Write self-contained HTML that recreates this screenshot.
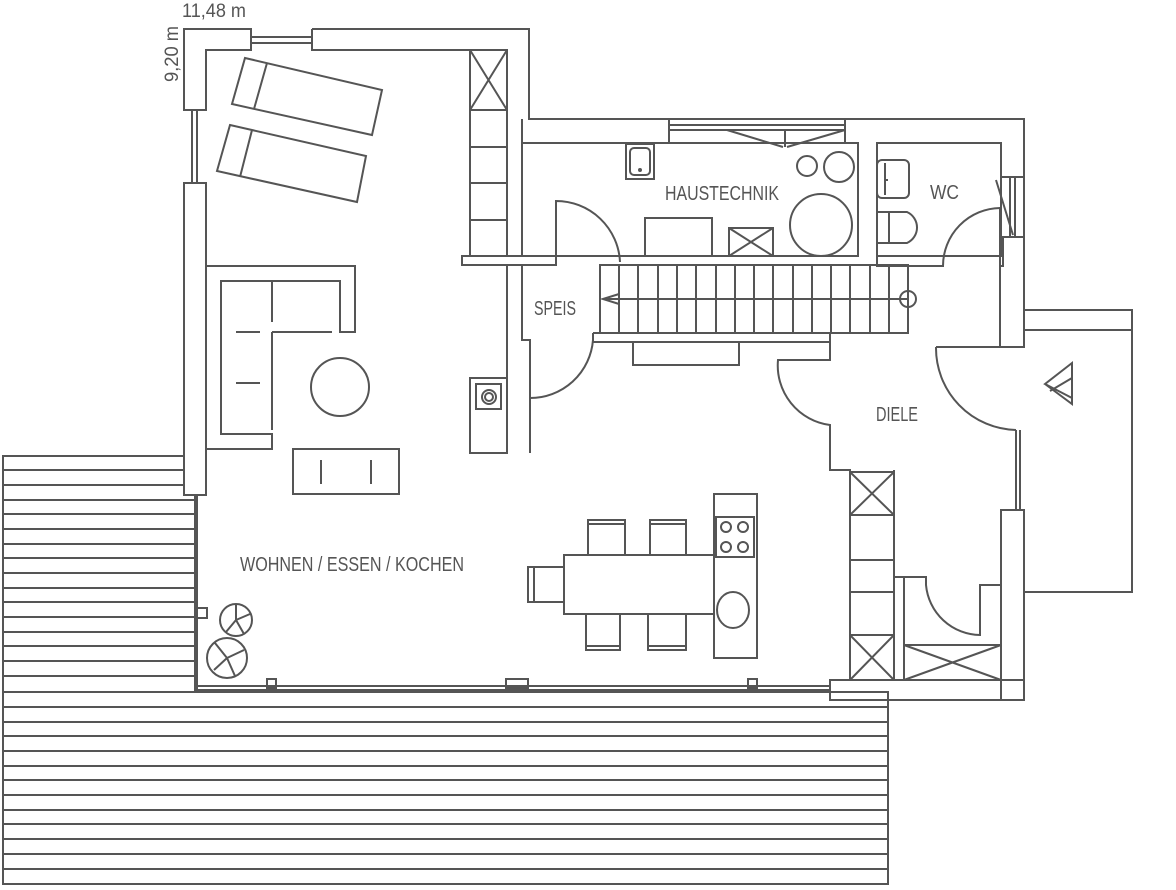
<!DOCTYPE html>
<html><head><meta charset="utf-8"><style>
html,body{margin:0;padding:0;background:#fff;}
svg{display:block;}
text{font-family:"Liberation Sans Narrow","Liberation Sans",sans-serif;fill:#555;}
</style></head><body>
<svg width="1176" height="890" viewBox="0 0 1176 890" xmlns="http://www.w3.org/2000/svg">
<g fill="none" stroke="#555" stroke-width="2">
<g stroke-width="2">
<rect x="3" y="456" width="192" height="236"/>
<path d="M3 470H195M3 485H195M3 500H195M3 514H195M3 529H195M3 544H195M3 558H195M3 573H195M3 588H195M3 602H195M3 617H195M3 632H195M3 646H195M3 661H195M3 676H195"/>
<rect x="3" y="692" width="885" height="192"/>
<path d="M3 707H888M3 722H888M3 736H888M3 751H888M3 766H888M3 780H888M3 795H888M3 810H888M3 824H888M3 839H888M3 854H888M3 869H888"/>
</g>
<path d="M184 29H251V50H206V110H184Z" fill="#fff"/>
<path d="M251 37H312M251 43H312"/>
<path d="M312 29H529V119H1024V310"/>
<path d="M312 29V50H470"/>
<path d="M192 110V183M197 110V183"/>
<rect x="184" y="183" width="22" height="312" fill="#fff"/>
<path d="M197 495V690H830M197 686H830"/>
<rect x="470" y="50" width="37" height="206"/>
<path d="M470 110H507M470 147H507M470 183H507M470 220H507M470 50L507 110M507 50L470 110"/>
<path d="M462 256H556V265H462Z" fill="#fff"/>
<path d="M507 265V453M522 265V340H530V453"/>
<path d="M507 50V256M522 119V256"/>
<rect x="470" y="378" width="37" height="75"/>
<rect x="476" y="384" width="25" height="25"/>
<circle cx="489" cy="397" r="7"/><circle cx="489" cy="397" r="4"/>
<path d="M556 258V201A64 64 0 0 1 620 262"/>
<path d="M530 343V398A63 63 0 0 0 593 340"/>
<rect x="522" y="143" width="336" height="113"/>
<path d="M669 119V143M845 119V143M669 130H845M669 125H845M727 130L783 147M845 130L787 147M785 130V147"/>
<rect x="626" y="144" width="28" height="35"/>
<rect x="630" y="148" width="20" height="27" rx="4"/>
<circle cx="640" cy="170" r="1"/>
<rect x="645" y="218" width="67" height="38"/>
<rect x="729" y="228" width="44" height="28"/>
<path d="M729 228L773 256M773 228L729 256"/>
<circle cx="807" cy="166" r="10"/><circle cx="839" cy="167" r="15"/><circle cx="821" cy="225" r="31"/>
<rect x="877" y="143" width="124" height="113"/>
<rect x="877" y="160" width="32" height="38" rx="5"/>
<path d="M885 163V195M885 180H888"/>
<path d="M877 212H907A17 17 0 0 1 907 243H877M889 212V243"/>
<path d="M877 256V266H943A58 58 0 0 1 1000 208V266H1003V237H1024M1000 177H1024V237M1010 177V237M1015 177V237M996 180L1013 235"/>
<path d="M1000 266V347H1024V310M1000 347H1024"/>
<path d="M936 347H1016M936 347A82 82 0 0 0 1016 430"/>
<path d="M1016 430V510M1020 430V510"/>
<rect x="1001" y="510" width="23" height="190"/>
<rect x="830" y="680" width="194" height="20"/>
<path d="M1024 310H1132V592H1024M1024 330H1132"/>
<path d="M1045 384L1072 363V398ZM1050 391L1072 378M1045 384L1072 404V398"/>
<rect x="600" y="265" width="308" height="68"/>
<path d="M619 265V333M638 265V333M658 265V333M677 265V333M696 265V333M716 265V333M735 265V333M754 265V333M773 265V333M793 265V333M812 265V333M831 265V333M850 265V333M870 265V333M889 265V333"/>
<path d="M603 299H908M603 299L619 294V304Z"/>
<circle cx="908" cy="299" r="8"/>
<path d="M593 333H830V360M593 333V342H830"/>
<path d="M830 342V360H778A60 60 0 0 0 830 425V470H850"/>
<rect x="633" y="342" width="106" height="23"/>
<path d="M830 470H850V680M894 470V577H904"/>
<rect x="850" y="472" width="44" height="208"/>
<path d="M850 515H894M850 560H894M850 592H894M850 635H894M850 472L894 515M894 472L850 515M850 635L894 680M894 635L850 680"/>
<path d="M904 577V680H1001M904 577H926V585A55 55 0 0 0 980 635V585H1001"/>
<path d="M904 645H1001M904 645L1001 680M1001 645L904 680"/>
<path d="M245 58L382 90L372 135L232 104Z M267 63L254 109"/>
<path d="M230 125L366 156L357 202L217 171Z M252 130L240 177"/>
<path d="M206 266H355V332H340V281H221V434H272V449H206"/>
<path d="M272 282V322M236 332H260M272 332H332M272 332V430M236 383H260"/>
<circle cx="340" cy="387" r="29"/>
<rect x="293" y="449" width="106" height="45"/>
<path d="M321 460V484M371 460V484"/>
<rect x="564" y="555" width="150" height="59"/>
<path d="M564 567H528V602H564M534 567V602"/>
<path d="M588 555V520H625V555M588 524H625M650 555V520H686V555M650 524H686"/>
<path d="M586 614V650H620V614M586 646H620M648 614V650H686V614M648 646H686"/>
<rect x="714" y="494" width="43" height="164"/>
<rect x="716" y="517" width="38" height="40"/>
<circle cx="726" cy="527" r="5"/><circle cx="743" cy="527" r="5"/><circle cx="726" cy="547" r="5"/><circle cx="743" cy="547" r="5"/>
<ellipse cx="733" cy="610" rx="16" ry="18"/>
<circle cx="236" cy="620" r="16"/><circle cx="227" cy="658" r="20"/>
<path d="M236 620L236 605M236 620L250 614M236 620L226 632M236 620L244 634M227 658L215 643M227 658L244 650M227 658L214 670M227 658L235 676"/>
<rect x="197" y="608" width="10" height="10"/>
<rect x="267" y="679" width="9" height="9"/><rect x="506" y="679" width="22" height="9"/><rect x="748" y="679" width="9" height="9"/>
</g>
<text x="182" y="17" font-size="19" textLength="64" lengthAdjust="spacingAndGlyphs">11,48 m</text>
<text x="178" y="82" font-size="19" textLength="56" lengthAdjust="spacingAndGlyphs" transform="rotate(-90 178 82)">9,20 m</text>
<text x="665" y="200" font-size="20" textLength="114" lengthAdjust="spacingAndGlyphs">HAUSTECHNIK</text>
<text x="930" y="199" font-size="20" textLength="29" lengthAdjust="spacingAndGlyphs">WC</text>
<text x="534" y="315" font-size="20" textLength="42" lengthAdjust="spacingAndGlyphs">SPEIS</text>
<text x="876" y="421" font-size="20" textLength="42" lengthAdjust="spacingAndGlyphs">DIELE</text>
<text x="240" y="571" font-size="20" textLength="224" lengthAdjust="spacingAndGlyphs">WOHNEN / ESSEN / KOCHEN</text>
</svg>
</body></html>
